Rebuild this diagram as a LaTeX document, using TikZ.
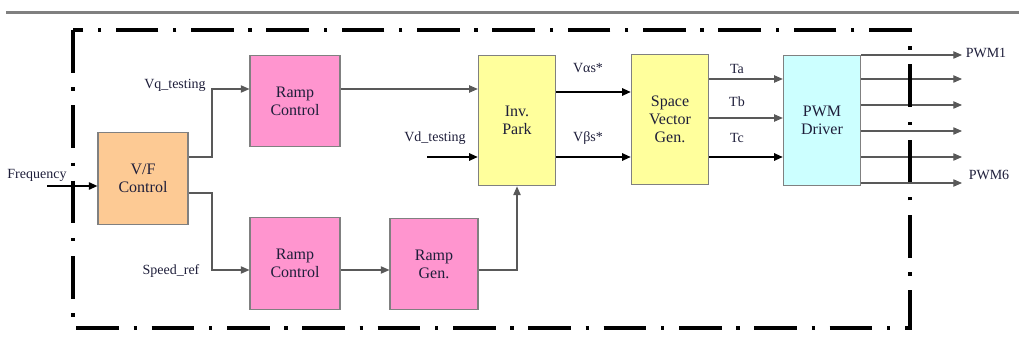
\documentclass[tikz,border=0pt]{standalone}
\usepackage{fontspec}
\setmainfont{Liberation Serif}
\usetikzlibrary{arrows.meta}
\definecolor{vfc}{HTML}{FDCA94}
\definecolor{rampc}{HTML}{FF95CF}
\definecolor{parkc}{HTML}{FFFF9C}
\definecolor{pwmc}{HTML}{CCFFFF}
\definecolor{txtc}{HTML}{1E1E3A}
\tikzset{
  blk/.style={draw=black!50,line width=0.8pt,align=center,text=txtc,
    font=\fontsize{12}{13.5}\selectfont,minimum width=67.5pt,minimum height=68.5pt,inner sep=0pt},
  tall/.style={blk,minimum width=58pt,minimum height=98pt},
  conn/.style={draw=black!65,line width=0.8pt,-{Triangle[length=6.5pt,width=5.5pt]}},
  connb/.style={conn,draw=black,line width=1.3pt},
  lbl/.style={text=txtc,font=\fontsize{10.5}{12}\selectfont,inner sep=0pt},
  border/.style={line width=3pt,dash pattern=on 32pt off 11pt on 2.5pt off 11pt}
}
\begin{document}
\begin{tikzpicture}[x=0.75pt,y=-0.75pt]
  \useasboundingbox (0,0) rectangle (1019,349);
  \draw[black!50,line width=2.3pt] (6,12.5) -- (1019,12.5);

  \node[blk,fill=vfc] (vf) at (143,178.5) {V/F\\Control};
  \node[blk,fill=rampc] (rc1) at (295,101) {Ramp\\Control};
  \node[blk,fill=rampc] (rc2) at (295,263.5) {Ramp\\Control};
  \node[blk,fill=rampc,minimum width=66pt] (rg) at (434,264) {Ramp\\Gen.};
  \node[tall,fill=parkc] (ip) at (517,120.5) {Inv.\\Park};
  \node[tall,fill=parkc,minimum height=97pt] (sv) at (670,119.5) {Space\\Vector\\Gen.};
  \node[tall,fill=pwmc] (pwm) at (822,120.5) {PWM\\Driver};

  \coordinate (fin) at (47,186);
  \coordinate (vq) at (212,89);
  \coordinate (sp) at (212,270);
  \coordinate (vd) at (427,157);

  \draw[connb] (fin) -- (fin -| vf.west);
  \node[lbl] (lfreq) at (37,175) {Frequency};
  \draw[conn] (vf.east |- 0,157) -| (vq) -- (vq -| rc1.west);
  \node[lbl] (lvq) at (175,85) {Vq\_testing};
  \draw[conn] (vf.east |- 0,193) -| (sp) -- (sp -| rc2.west);
  \node[lbl] (lsp) at (171,271) {Speed\_ref};
  \draw[conn] (rc1.east |- 0,89) -- (ip.west |- 0,89);
  \draw[connb] (vd) -- (vd -| ip.west);
  \node[lbl] (lvd) at (435,138) {Vd\_testing};
  \draw[conn] (rc2.east |- 0,270) -- (rg.west |- 0,270);
  \draw[conn] (rg.east |- 0,270) -| (ip.south);

  \draw[connb] (ip.east |- 0,92) -- (sv.west |- 0,92);
  \node[lbl] (lva) at (588,68) {Vαs*};
  \draw[connb] (ip.east |- 0,157) -- (sv.west |- 0,157);
  \node[lbl] (lvb) at (588,138) {Vβs*};

  \draw[conn] (sv.east |- 0,79) -- (pwm.west |- 0,79);
  \node[lbl] (lta) at (737,69) {Ta};
  \draw[conn] (sv.east |- 0,118) -- (pwm.west |- 0,118);
  \node[lbl] (ltb) at (737,102) {Tb};
  \draw[connb] (sv.east |- 0,157) -- (pwm.west |- 0,157);
  \node[lbl] (ltc) at (737,138) {Tc};

  \foreach \y [count=\i] in {55,79,105,131,157,183}{
    \coordinate (o\i) at (962,\y);
    \draw[conn] (pwm.east |- 0,\y) -- (o\i);}
  \node[lbl] (lp1) at (986,53) {PWM1};
  \node[lbl] (lp6) at (989,175) {PWM6};

  \draw[border] (73,30) rectangle (910,328);
\end{tikzpicture}
\end{document}
